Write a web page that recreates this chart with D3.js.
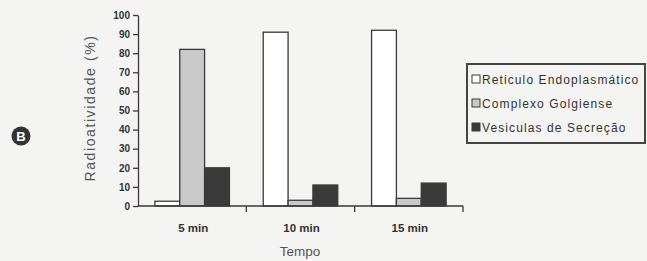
<!DOCTYPE html>
<html>
<head>
<meta charset="utf-8">
<script src="https://cdn.jsdelivr.net/npm/d3@7"></script>
<style>
  html, body { margin: 0; padding: 0; background: #f4f4f2; }
  svg { display: block; }
</style>
</head>
<body>
<svg id="chart" width="647" height="261"></svg>
<script>
const categories = ["5 min", "10 min", "15 min"];
const seriesNames = ["Reticulo Endoplasmático", "Complexo Golgiense", "Vesiculas de Secreção"];
const reticulo = [2.5, 91, 92];
const golgiense = [82, 3, 4];
const vesiculas = [20, 11, 12];
const yTicks = [0, 10, 20, 30, 40, 50, 60, 70, 80, 90, 100];

const seriesValues = [reticulo, golgiense, vesiculas];
const fills = ["#ffffff", "#c9c9c9", "#3a3a3a"];
const ink = "#3a3a3a";

const svg = d3.select("#chart");

const x0 = d3.scaleBand().domain(categories).range([138, 463]).padding(0);
const x1 = d3.scaleBand().domain(seriesNames).range([0, x0.bandwidth()])
  .paddingInner(0).paddingOuter(0.68);
const y = d3.scaleLinear().domain([0, 100]).range([206, 15]);

// bars
const data = [];
categories.forEach((c, i) => {
  seriesNames.forEach((s, j) => data.push({ cat: c, ser: s, j, v: seriesValues[j][i] }));
});
svg.append("g").selectAll("rect").data(data).join("rect")
  .attr("x", d => x0(d.cat) + x1(d.ser))
  .attr("y", d => y(d.v))
  .attr("width", x1.bandwidth())
  .attr("height", d => y(0) - y(d.v))
  .attr("fill", d => fills[d.j])
  .attr("stroke", ink)
  .attr("stroke-width", 1.3);

// y axis
const yAxis = d3.axisLeft(y).tickValues(yTicks).tickSize(5).tickSizeOuter(0).tickPadding(3);
const gy = svg.append("g").attr("transform", "translate(138,0)").call(yAxis);
gy.select(".domain").attr("stroke", ink).attr("stroke-width", 1.3);
gy.selectAll(".tick line").attr("stroke", ink).attr("stroke-width", 1.3);
gy.selectAll(".tick text")
  .attr("font-family", "Liberation Sans, Arial, sans-serif")
  .attr("font-weight", "bold").attr("font-size", 10).attr("fill", "#333");

// x axis line with separator ticks
const gx = svg.append("g").attr("transform", "translate(0,206)");
gx.append("line").attr("x1", 138).attr("x2", 463).attr("y1", 0).attr("y2", 0)
  .attr("stroke", ink).attr("stroke-width", 1.3);
const seps = categories.map(c => x0(c) + x0.bandwidth());
gx.selectAll("line.sep").data(seps).join("line").attr("class", "sep")
  .attr("x1", d => d).attr("x2", d => d).attr("y1", 0).attr("y2", 6)
  .attr("stroke", ink).attr("stroke-width", 1.3);
gx.selectAll("text").data(categories).join("text")
  .attr("x", d => x0(d) + x0.bandwidth() / 2 + 1)
  .attr("y", 26)
  .attr("text-anchor", "middle")
  .attr("font-family", "Liberation Sans, Arial, sans-serif")
  .attr("font-weight", "bold").attr("font-size", 11.5).attr("fill", "#333")
  .text(d => d);

// axis titles
svg.append("text")
  .attr("transform", "translate(95,108) rotate(-90)")
  .attr("text-anchor", "middle")
  .attr("font-family", "Liberation Sans, Arial, sans-serif")
  .attr("font-size", 14).attr("letter-spacing", 1.6).attr("fill", "#555")
  .text("Radioatividade (%)");
svg.append("text")
  .attr("x", 300).attr("y", 256)
  .attr("text-anchor", "middle")
  .attr("font-family", "Liberation Sans, Arial, sans-serif")
  .attr("font-size", 13.5).attr("fill", "#555")
  .text("Tempo");

// circled B marker
const gb = svg.append("g").attr("transform", "translate(21,136)");
gb.append("circle").attr("r", 9.5).attr("fill", "#333");
gb.append("text").attr("text-anchor", "middle").attr("dy", "0.36em")
  .attr("font-family", "Liberation Sans, Arial, sans-serif")
  .attr("font-weight", "bold").attr("font-size", 13).attr("fill", "#fff").text("B");

// legend
const lg = svg.append("g");
lg.append("rect").attr("x", 467).attr("y", 64).attr("width", 178).attr("height", 79)
  .attr("fill", "none").attr("stroke", "#444").attr("stroke-width", 2);
const rowY = [79, 103, 127];
seriesNames.forEach((s, j) => {
  lg.append("rect").attr("x", 472).attr("y", rowY[j] - 4).attr("width", 8).attr("height", 8)
    .attr("fill", fills[j]).attr("stroke", ink).attr("stroke-width", 1);
  lg.append("text").attr("x", 482).attr("y", rowY[j] + 4.5)
    .attr("font-family", "Liberation Sans, Arial, sans-serif")
    .attr("font-size", 12).attr("letter-spacing", 1.1).attr("fill", "#333")
    .text(s);
});
</script>
</body>
</html>
